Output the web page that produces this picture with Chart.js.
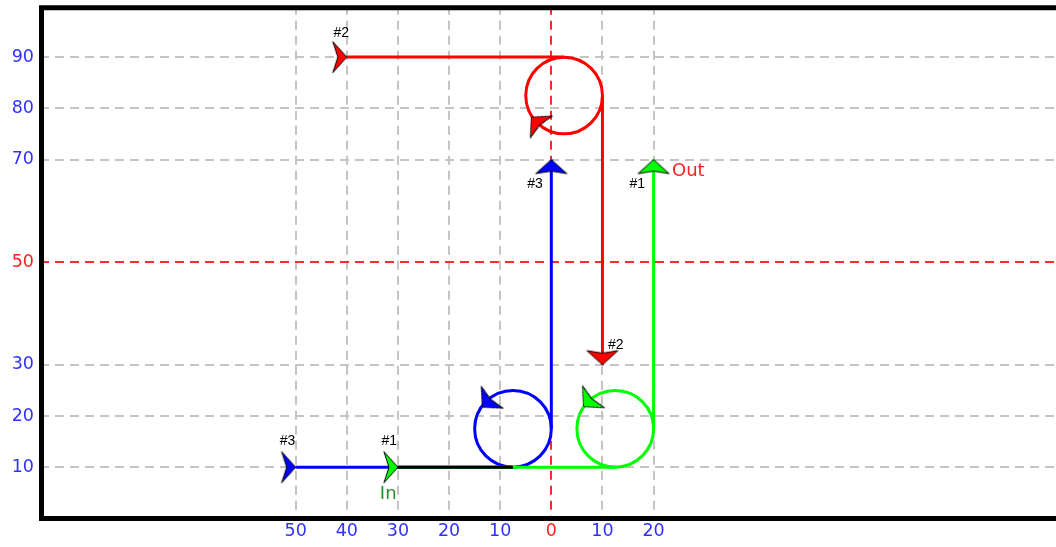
<!DOCTYPE html>
<html>
<head>
<meta charset="utf-8">
<script src="https://cdn.jsdelivr.net/npm/chart.js@4.4.1/dist/chart.umd.min.js"></script>
<style>
  html, body { margin: 0; padding: 0; background: #fff; overflow: hidden; }
  #wrap { width: 1056px; height: 547px; }
</style>
</head>
<body>
<div id="wrap"><canvas id="chart" width="1056" height="547"></canvas></div>
<script>
// axis ticks (x labels show distance from 0)
var xTicks = [-50, -40, -30, -20, -10, 0, 10, 20];
var yTicks = [10, 20, 30, 50, 70, 80, 90];
var xRef = 0, yRef = 50;   // red dashed reference lines

// paths #1 (green), #2 (red), #3 (blue); null = loop takes over
var path1 = [[-30, 10], [12.5, 10], null, [20, 17.5], [20, 70]];
var path2 = [[-40, 90], [2.5, 90], null, [10, 82.5], [10, 30]];
var path3 = [[-50, 10], [-7.5, 10], null, [0, 17.5], [0, 70]];
var sharedPath = [[-30, 10], [-7.5, 10]];

// loops: centre, radius, arrow tip and heading (deg, ccw from +x)
var loopCenters = [[12.5, 17.5], [2.5, 82.5], [-7.5, 17.5]];
var loopRadius = [7.5, 7.5, 7.5];
var loopArrows = [[6.3, 21.8], [-3.9, 78.3], [-13.5, 21.7]];
var loopHeading = [225, 135, 225];

// text notes
var noteText = ['#1', '#1', '#2', '#2', '#3', '#3', 'In', 'Out'];
var noteX = [-31.7, 16.8, -41.1, 12.6, -51.6, -3.2, -31.9, 26.8];
var noteY = [15.0, 65.2, 94.7, 33.8, 15.0, 65.2, 4.7, 67.8];

// ---- styles ----
var pathColors = ['#00ff00', '#ff0000', '#0000ff'];
var noteColors = ['#000', '#000', '#000', '#000', '#000', '#000', '#2a8f2a', '#ff2020'];
var smallFont = '14px "Liberation Sans"', bigFont = '18px "DejaVu Sans"';
var noteFonts = [smallFont, smallFont, smallFont, smallFont, smallFont, smallFont, bigFont, bigFont];
var tickBlue = '#3030ff', tickRed = '#ff2020';
var gridGray = '#c4c4c4', gridRed = '#ff2a2a';

function arrowImg(color, depth, half, notch) {
    var c = document.createElement('canvas');
    c.width = c.height = 40;
    var g = c.getContext('2d'), m = 20;
    g.beginPath();
    g.moveTo(m, m);
    g.lineTo(m - depth, m - half);
    g.lineTo(m - notch, m);
    g.lineTo(m - depth, m + half);
    g.closePath();
    g.fillStyle = color;
    g.fill();
    g.lineWidth = 1;
    g.strokeStyle = '#000';
    g.stroke();
    return c;
}

function pts(p) {
    return p.map(function (q) { return q ? {x: q[0], y: q[1]} : {x: null, y: null}; });
}

function heading(a, b) {
    return Math.atan2(b[1] - a[1], b[0] - a[0]) * 180 / Math.PI;
}

// markers: tail at start, head at end, one on each loop
var markPts = [], markStyle = [], markRot = [];
[path1, path2, path3].forEach(function (p, i) {
    var n = p.length;
    markPts.push({x: p[0][0], y: p[0][1]});
    markStyle.push(arrowImg(pathColors[i], 14, 15.5, 9));
    markRot.push(-heading(p[0], p[1]));
    markPts.push({x: p[n - 1][0], y: p[n - 1][1]});
    markStyle.push(arrowImg(pathColors[i], 14, 15.5, 11.5));
    markRot.push(-heading(p[n - 2], p[n - 1]));
    markPts.push({x: loopArrows[i][0], y: loopArrows[i][1]});
    markStyle.push(arrowImg(pathColors[i], 14, 15.5, 11.5));
    markRot.push(-loopHeading[i]);
});

function lineSet(p, color, order) {
    return {
        data: pts(p), showLine: true, borderColor: color, borderWidth: 3,
        pointRadius: 0, spanGaps: false, order: order
    };
}

var frame = {
    id: 'frame',
    afterDatasetsDraw: function (chart) {
        var a = chart.chartArea, g = chart.ctx;
        g.save();
        g.strokeStyle = '#000';
        g.lineWidth = 5;
        g.beginPath();
        g.moveTo(chart.width + 5, a.top + 2);
        g.lineTo(a.left + 1.5, a.top + 2);
        g.lineTo(a.left + 1.5, a.bottom);
        g.lineTo(chart.width + 5, a.bottom);
        g.stroke();
        g.restore();
    }
};

var notes = {
    id: 'notes',
    afterDatasetsDraw: function (chart) {
        var xs = chart.scales.x, ys = chart.scales.y, g = chart.ctx;
        g.save();
        g.textAlign = 'center';
        g.textBaseline = 'middle';
        noteText.forEach(function (t, i) {
            g.font = noteFonts[i];
            g.fillStyle = noteColors[i];
            g.fillText(t, xs.getPixelForValue(noteX[i]), ys.getPixelForValue(noteY[i]));
        });
        g.restore();
    }
};

var ctx = document.getElementById('chart').getContext('2d');
new Chart(ctx, {
    type: 'scatter',
    data: {
        datasets: [
            {
                data: markPts, pointStyle: markStyle, rotation: markRot,
                pointRadius: 10, order: 0
            },
            lineSet(sharedPath, '#000', 1),
            lineSet(path1, pathColors[0], 2),
            lineSet(path2, pathColors[1], 2),
            lineSet(path3, pathColors[2], 2),
            {
                data: pts(loopCenters), pointStyle: 'circle',
                pointRadius: function (c) {
                    var s = c.chart.scales.x;
                    return Math.abs(s.getPixelForValue(loopRadius[c.dataIndex]) - s.getPixelForValue(0));
                },
                pointBackgroundColor: 'rgba(0,0,0,0)',
                pointBorderColor: pathColors, pointBorderWidth: 3, order: 3
            }
        ]
    },
    options: {
        responsive: false,
        animation: false,
        events: [],
        layout: {autoPadding: false, padding: {top: 5.8, left: 0, right: 0, bottom: 0}},
        plugins: {legend: {display: false}, tooltip: {enabled: false}},
        scales: {
            x: {
                type: 'linear', min: -100, max: 98.7,
                afterBuildTicks: function (s) { s.ticks = xTicks.map(function (v) { return {value: v}; }); },
                afterFit: function (s) { s.height = 28.5; s.paddingLeft = 0; s.paddingRight = 0; },
                ticks: {
                    callback: function (v) { return String(Math.abs(v)); },
                    color: function (c) { return c.tick && c.tick.value === xRef ? tickRed : tickBlue; },
                    font: {family: 'DejaVu Sans', size: 17.5},
                    padding: 2, maxRotation: 0, autoSkip: false
                },
                grid: {
                    drawTicks: false, lineWidth: 2,
                    color: function (c) { return c.tick && c.tick.value === xRef ? gridRed : gridGray; }
                },
                border: {display: false, dash: [9, 6]}
            },
            y: {
                type: 'linear', min: 0, max: 100,
                afterBuildTicks: function (s) { s.ticks = yTicks.map(function (v) { return {value: v}; }); },
                afterFit: function (s) { s.width = 40; s.paddingTop = 0; s.paddingBottom = 0; },
                ticks: {
                    color: function (c) { return c.tick && c.tick.value === yRef ? tickRed : tickBlue; },
                    font: {family: 'DejaVu Sans', size: 17.5},
                    padding: 6, autoSkip: false
                },
                grid: {
                    drawTicks: false, lineWidth: 2,
                    color: function (c) { return c.tick && c.tick.value === yRef ? gridRed : gridGray; }
                },
                border: {display: false, dash: [9, 6]}
            }
        }
    },
    plugins: [frame, notes]
});
</script>
</body>
</html>
